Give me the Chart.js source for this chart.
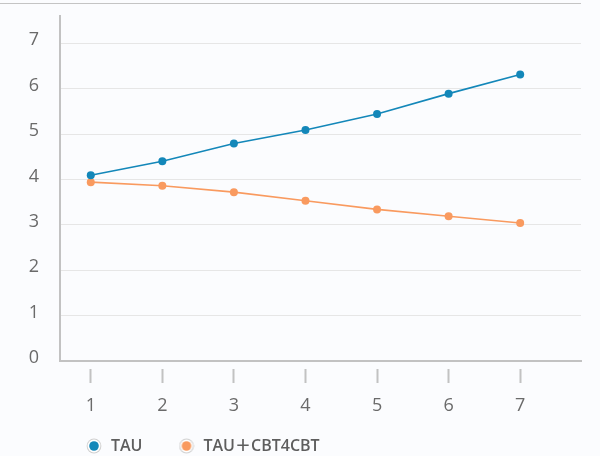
<!DOCTYPE html>
<html>
<head>
<meta charset="utf-8">
<script src="https://cdn.jsdelivr.net/npm/chart.js@4/dist/chart.umd.min.js"></script>
<style>
  html, body { margin: 0; padding: 0; background: #fbfcfe; }
  #wrap { position: relative; width: 600px; height: 456px; }
  #topLine { position: absolute; left: 0; top: 3px; width: 581px; height: 1px; background: #c4c4c4; }
  #chart { position: absolute; left: 0; top: 0; }
</style>
</head>
<body>
<div id="wrap">
  <div id="topLine"></div>
  <canvas id="chart" width="600" height="456"></canvas>
</div>
<script>
// Data
const sessions = [1, 2, 3, 4, 5, 6, 7];
const tauValues = [4.09, 4.40, 4.79, 5.09, 5.44, 5.89, 6.31];
const cbtValues = [3.94, 3.86, 3.72, 3.53, 3.34, 3.19, 3.04];
const yTicks = [0, 1, 2, 3, 4, 5, 6, 7];
const seriesNames = ["TAU", "TAU\uFF0BCBT4CBT"];

const BLUE = "#1387b9";
const ORANGE = "#f99a5f";
const LEGEND_PAD = 35;
const CHART_BOTTOM = 361;

// small ringed dot used in the legend
function legendDot(color) {
  const c = document.createElement("canvas");
  c.width = 16;
  c.height = 16;
  const g = c.getContext("2d");
  const dot = (r, fill) => {
    g.beginPath();
    g.arc(8, 8, r, 0, Math.PI * 2);
    g.fillStyle = fill;
    g.fill();
  };
  dot(7.4, "#d0d0d0");
  dot(6.4, "#ffffff");
  dot(4.8, color);
  return c;
}

// move the legend to where the original had it, let x labels draw below the short axis box
const legendShift = {
  id: "legendShift",
  afterLayout(chart) {
    const lg = chart.legend;
    const w = lg.right - lg.left;
    const h = lg.bottom - lg.top;
    lg.left = 85 - LEGEND_PAD;
    lg.right = lg.left + w;
    lg.top = 438 - LEGEND_PAD;
    lg.bottom = lg.top + h;
    chart.scales.x.bottom = 430;
  },
};

const toPoints = (ys) => sessions.map((x, i) => ({ x: x, y: ys[i] }));

const ctx = document.getElementById("chart").getContext("2d");
new Chart(ctx, {
  type: "line",
  data: {
    datasets: [
      {
        label: seriesNames[0],
        data: toPoints(tauValues),
        borderColor: BLUE,
        backgroundColor: BLUE,
        borderWidth: 1.6,
        pointRadius: 4,
        pointBorderWidth: 0,
        pointBackgroundColor: BLUE,
        tension: 0,
      },
      {
        label: seriesNames[1],
        data: toPoints(cbtValues),
        borderColor: ORANGE,
        backgroundColor: ORANGE,
        borderWidth: 1.6,
        pointRadius: 4,
        pointBorderWidth: 0,
        pointBackgroundColor: ORANGE,
        tension: 0,
      },
    ],
  },
  options: {
    responsive: false,
    animation: false,
    layout: { padding: { top: 16, right: 19, left: 0, bottom: 0 } },
    scales: {
      x: {
        type: "linear",
        min: 0.57,
        max: 7.85,
        afterBuildTicks: (scale) => {
          scale.ticks = sessions.map((v) => ({ value: v }));
        },
        afterFit: (scale) => {
          // legend box takes the rest of the canvas height
          const legendH = scale.chart.legend ? scale.chart.legend.height : 0;
          scale.height = 456 - CHART_BOTTOM - legendH;
          scale.paddingLeft = 0;
          scale.paddingRight = 0;
        },
        grid: {
          drawOnChartArea: false,
          tickLength: 22,
          tickColor: "#c2c2c2",
          tickWidth: 2,
          tickBorderDash: [0, 7, 15, 100],
        },
        border: { color: "#c2c2c2", width: 2 },
        ticks: {
          padding: 12,
          color: "#6a6a6a",
          font: { family: "'Open Sans'", size: 18 },
        },
      },
      y: {
        min: 0,
        max: 7.6,
        afterBuildTicks: (scale) => {
          scale.ticks = yTicks.map((v) => ({ value: v }));
        },
        afterFit: (scale) => {
          scale.width = 60;
          scale.paddingTop = 0;
          scale.paddingBottom = 0;
        },
        grid: { color: "#e6e6e6", lineWidth: 1, drawTicks: false },
        border: { color: "#c2c2c2", width: 2 },
        ticks: {
          padding: 21,
          labelOffset: -3,
          color: "#6a6a6a",
          font: { family: "'Open Sans'", size: 18 },
        },
      },
    },
    plugins: {
      tooltip: { enabled: false },
      legend: {
        position: "bottom",
        align: "start",
        labels: {
          usePointStyle: true,
          pointStyleWidth: 18,
          boxHeight: 16,
          padding: LEGEND_PAD,
          color: "#5e5e5e",
          font: { family: "'Open Sans', 'Noto Sans CJK SC'", size: 16, weight: "600" },
          generateLabels: (chart) =>
            chart.data.datasets.map((ds, i) => ({
              text: ds.label,
              fillStyle: ds.borderColor,
              strokeStyle: ds.borderColor,
              lineWidth: 0,
              pointStyle: legendDot(ds.borderColor),
              fontColor: "#5e5e5e",
              hidden: false,
              datasetIndex: i,
            })),
        },
      },
    },
  },
  plugins: [legendShift],
});
</script>
</body>
</html>
